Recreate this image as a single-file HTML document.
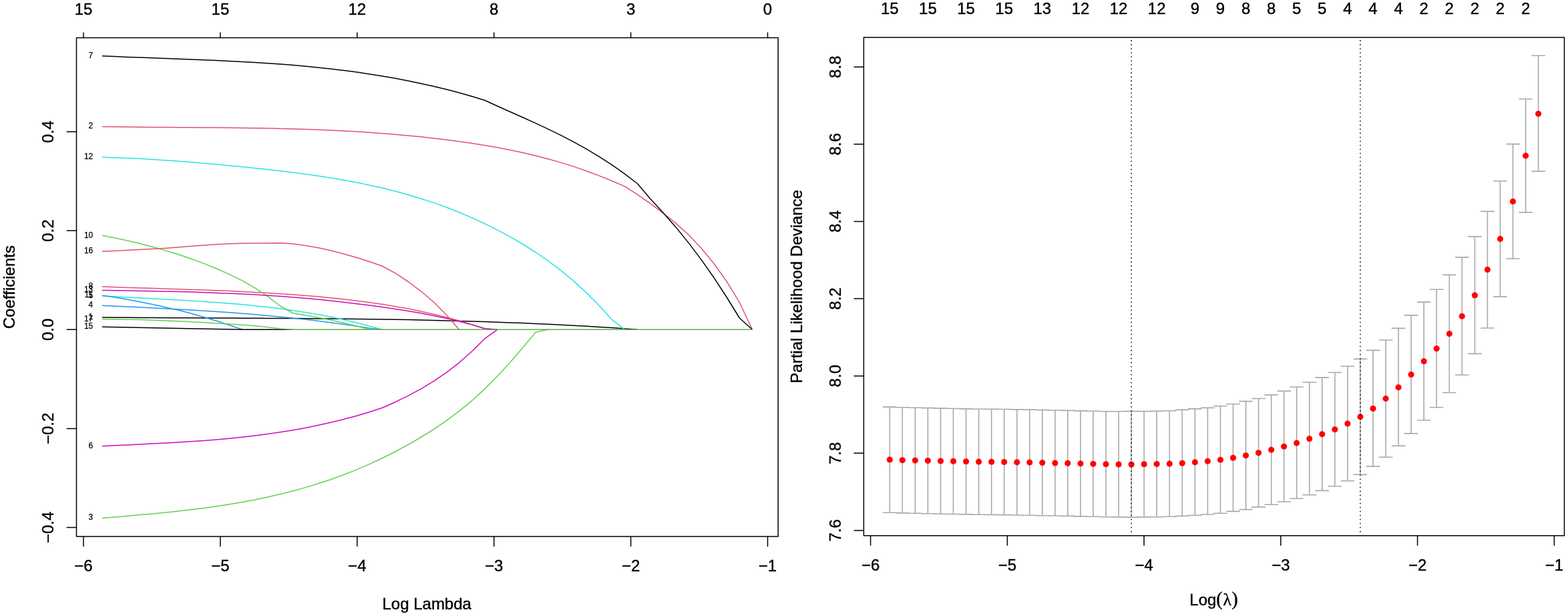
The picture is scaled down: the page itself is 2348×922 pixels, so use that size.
<!DOCTYPE html>
<html lang="en">
<head>
<meta charset="utf-8">
<title>LASSO coefficient paths and cross-validation</title>
<style>
html,body{margin:0;padding:0;background:#fff;}
body{width:2348px;height:922px;overflow:hidden;}
svg{display:block;}
</style>
</head>
<body>
<svg width="2348" height="922" viewBox="0 0 2348 922" font-family="'Liberation Sans', Arial, Helvetica, sans-serif" font-size="24.0" fill="#000">
<style>text{stroke:#000;stroke-width:0.4px;stroke-linejoin:round}.s text{stroke-width:0.25px}</style>
<rect width="2348" height="922" fill="#fff"/>
<g id="left">
<g id="paths">
<polyline points="153.0,475.0 172.1,475.2 191.2,475.3 210.3,475.4 229.4,475.6 248.4,475.7 267.5,475.8 286.6,475.8 305.7,475.9 324.8,476.0 343.9,476.1 363.0,476.2 382.1,476.3 401.1,476.4 420.2,476.5 439.3,476.6 458.4,476.7 477.5,476.9 496.6,477.1 515.7,477.3 534.8,477.5 553.8,477.7 572.9,478.0 592.0,478.3 611.1,478.6 630.2,479.0 649.3,479.4 668.4,479.9 687.5,480.4 706.6,480.9 725.6,481.5 744.7,482.2 763.8,482.9 782.9,483.6 802.0,484.4 821.1,485.3 840.2,486.2 859.3,487.2 878.3,488.3 897.4,489.4 916.5,490.6 935.6,491.9 954.7,493.3" fill="none" stroke="#000000" stroke-width="1.5" stroke-linejoin="round" stroke-linecap="butt"/>
<polyline points="153.0,189.4 172.1,189.7 191.2,190.0 210.3,190.2 229.4,190.4 248.4,190.5 267.5,190.7 286.6,190.8 305.7,190.9 324.8,191.1 343.9,191.3 363.0,191.5 382.1,191.8 401.1,192.1 420.2,192.5 439.3,193.0 458.4,193.6 477.5,194.3 496.6,195.1 515.7,196.0 534.8,197.1 553.8,198.3 572.9,199.7 592.0,201.2 611.1,202.9 630.2,204.8 649.3,206.9 668.4,209.2 687.5,211.7 706.6,214.5 725.6,217.5 744.7,220.8 763.8,224.5 782.9,228.6 802.0,233.0 821.1,238.0 840.2,243.4 859.3,249.4 878.3,256.0 897.4,263.1 916.5,270.8 935.6,279.1 937.1,279.8 954.7,291.4 973.8,304.6 992.9,318.8 1012.0,334.1 1031.0,351.3 1050.1,371.6 1069.2,394.8 1088.3,421.4 1107.4,452.8 1126.5,493.3" fill="none" stroke="#DF536B" stroke-width="1.5" stroke-linejoin="round" stroke-linecap="butt"/>
<polyline points="153.0,775.5 172.1,773.9 191.2,772.3 210.3,770.6 229.4,768.9 248.4,767.0 267.5,765.0 286.6,762.8 305.7,760.4 324.8,757.7 343.9,754.8 363.0,751.5 382.1,747.9 401.1,743.9 420.2,739.5 439.3,734.7 458.4,729.4 477.5,723.5 496.6,717.2 515.7,710.2 534.8,702.6 553.8,694.4 572.9,685.5 592.0,676.0 611.1,665.6 630.2,654.5 649.3,642.6 668.4,629.6 687.5,615.4 706.6,599.8 725.6,582.4 744.7,563.3 763.8,542.4 782.9,520.3 802.0,497.2 821.1,493.3" fill="none" stroke="#61D04F" stroke-width="1.5" stroke-linejoin="round" stroke-linecap="butt"/>
<polyline points="153.0,457.3 172.1,458.2 191.2,459.1 210.3,460.0 229.4,461.0 248.4,462.0 267.5,463.0 286.6,464.1 305.7,465.3 324.8,466.5 343.9,467.8 363.0,469.3 382.1,470.8 401.1,472.5 420.2,474.2 439.3,476.2 458.4,478.2 477.5,480.5 496.6,482.9 515.7,485.5 534.8,488.2 553.8,491.2 572.9,493.3" fill="none" stroke="#2297E6" stroke-width="1.5" stroke-linejoin="round" stroke-linecap="butt"/>
<polyline points="153.0,443.0 172.1,444.1 191.2,445.1 210.3,446.1 229.4,447.1 248.4,448.1 267.5,449.1 286.6,450.2 305.7,451.4 324.8,452.7 343.9,454.2 363.0,455.8 382.1,457.7 401.1,459.7 420.2,462.1 439.3,464.7 458.4,467.7 477.5,471.0 496.6,474.6 515.7,478.7 534.8,483.2 553.8,488.2 572.9,493.3" fill="none" stroke="#28E2E5" stroke-width="1.5" stroke-linejoin="round" stroke-linecap="butt"/>
<polyline points="153.0,667.7 172.1,666.8 191.2,665.9 210.3,665.0 229.4,664.1 248.4,663.1 267.5,662.0 286.6,660.8 305.7,659.5 324.8,657.9 343.9,656.2 363.0,654.3 382.1,652.1 401.1,649.6 420.2,646.8 439.3,643.7 458.4,640.2 477.5,636.3 496.6,632.0 515.7,627.3 534.8,622.2 553.8,616.5 572.9,610.3 592.0,601.7 611.1,592.4 630.2,582.1 649.3,570.6 668.4,557.6 687.5,542.8 706.6,526.0 725.6,507.2 744.7,493.3" fill="none" stroke="#CD0BBC" stroke-width="1.5" stroke-linejoin="round" stroke-linecap="butt"/>
<polyline points="153.0,83.8 172.1,84.6 191.2,85.4 210.3,86.1 229.4,86.8 248.4,87.5 267.5,88.2 286.6,88.9 305.7,89.7 324.8,90.5 343.9,91.4 363.0,92.4 382.1,93.5 401.1,94.7 420.2,96.1 439.3,97.6 458.4,99.3 477.5,101.2 496.6,103.3 515.7,105.6 534.8,108.1 553.8,110.9 572.9,114.0 592.0,117.3 611.1,121.0 630.2,124.9 649.3,129.2 668.4,133.8 687.5,138.8 706.6,144.2 725.6,150.0 744.7,158.7 763.8,167.2 782.9,175.8 802.0,184.4 821.1,193.4 840.2,202.7 859.3,212.6 878.3,223.2 897.4,234.6 916.5,246.9 935.6,260.3 954.7,275.0 973.8,297.6 992.9,318.3 1012.0,339.9 1031.0,363.4 1050.1,388.6 1069.2,415.8 1088.3,445.0 1107.4,476.0 1126.5,493.3" fill="none" stroke="#000000" stroke-width="1.5" stroke-linejoin="round" stroke-linecap="butt"/>
<polyline points="153.0,429.1 172.1,429.8 191.2,430.4 210.3,431.0 229.4,431.6 248.4,432.2 267.5,432.8 286.6,433.4 305.7,434.1 324.8,434.8 343.9,435.6 363.0,436.4 382.1,437.4 401.1,438.5 420.2,439.7 439.3,441.0 458.4,442.5 477.5,444.1 496.6,445.9 515.7,448.0 534.8,450.2 553.8,452.7 572.9,455.5 592.0,458.7 611.1,462.1 630.2,466.0 649.3,470.2 668.4,474.9 687.5,480.0 706.6,485.6 725.6,491.7 744.7,493.3" fill="none" stroke="#DF536B" stroke-width="1.5" stroke-linejoin="round" stroke-linecap="butt"/>
<polyline points="153.0,352.6 172.1,356.2 191.2,360.3 210.3,364.8 229.4,369.8 248.4,375.1 267.5,381.0 286.6,387.5 305.7,394.6 324.8,402.3 343.9,410.9 363.0,420.2 382.1,431.1 401.1,443.8 420.2,458.5 439.3,469.0 458.4,472.1 477.5,475.5 496.6,479.3 515.7,483.5 534.8,488.2 553.8,493.3" fill="none" stroke="#61D04F" stroke-width="1.5" stroke-linejoin="round" stroke-linecap="butt"/>
<polyline points="153.0,442.3 172.1,445.1 191.2,448.3 210.3,451.9 229.4,455.8 248.4,459.9 267.5,464.3 286.6,469.3 305.7,474.7 324.8,480.5 343.9,486.7 363.0,493.3" fill="none" stroke="#2297E6" stroke-width="1.5" stroke-linejoin="round" stroke-linecap="butt"/>
<polyline points="153.0,235.2 172.1,235.9 191.2,236.7 210.3,237.6 229.4,238.7 248.4,239.9 267.5,241.3 286.6,242.8 305.7,244.4 324.8,246.1 343.9,247.9 363.0,249.8 382.1,251.7 401.1,253.8 420.2,256.0 439.3,258.3 458.4,260.8 477.5,263.5 496.6,266.4 515.7,269.7 534.8,273.2 553.8,277.2 572.9,281.5 592.0,286.2 611.1,291.5 630.2,297.2 649.3,303.4 668.4,310.3 687.5,317.8 706.6,325.9 725.6,334.7 744.7,344.2 763.8,354.4 782.9,365.5 802.0,377.5 821.1,390.7 840.2,405.1 859.3,420.9 878.3,438.4 897.4,457.5 916.5,478.4 935.6,493.3" fill="none" stroke="#28E2E5" stroke-width="1.5" stroke-linejoin="round" stroke-linecap="butt"/>
<polyline points="153.0,434.5 172.1,434.8 191.2,435.1 210.3,435.4 229.4,435.8 248.4,436.2 267.5,436.6 286.6,437.1 305.7,437.8 324.8,438.4 343.9,439.2 363.0,440.1 382.1,441.1 401.1,442.3 420.2,443.6 439.3,445.0 458.4,446.6 477.5,448.3 496.6,450.3 515.7,452.4 534.8,454.7 553.8,457.1 572.9,459.8 592.0,462.5 611.1,465.5 630.2,468.8 649.3,472.5 668.4,476.5 687.5,481.0 706.6,486.1 725.6,491.7 744.7,493.3" fill="none" stroke="#CD0BBC" stroke-width="1.5" stroke-linejoin="round" stroke-linecap="butt"/>
<polyline points="362.0,493.3 437.3,493.3" fill="none" stroke="#000000" stroke-width="1.6" stroke-linejoin="round" stroke-linecap="butt"/>
<polyline points="153.0,489.3 363.0,493.3" fill="none" stroke="#000000" stroke-width="1.5" stroke-linejoin="round" stroke-linecap="butt"/>
<polyline points="153.0,376.3 172.1,375.4 191.2,374.5 210.3,373.6 229.4,372.6 248.4,371.5 267.5,370.1 286.6,368.6 305.7,367.1 324.8,365.7 343.9,364.7 363.0,364.2 382.1,364.0 401.1,363.9 420.2,363.8 439.3,364.9 458.4,367.7 477.5,371.1 496.6,375.3 515.7,380.3 534.8,385.8 553.8,391.8 572.9,398.5 592.0,408.9 611.1,421.5 630.2,435.8 649.3,452.0 668.4,471.2 687.5,493.3" fill="none" stroke="#DF536B" stroke-width="1.5" stroke-linejoin="round" stroke-linecap="butt"/>
<polyline points="153.0,477.8 172.1,477.9 191.2,478.2 210.3,478.6 229.4,479.2 248.4,479.9 267.5,480.8 286.6,481.7 305.7,482.8 324.8,483.9 343.9,485.0 363.0,486.2 382.1,487.7 401.1,489.8 420.2,492.0 439.3,493.3" fill="none" stroke="#61D04F" stroke-width="1.5" stroke-linejoin="round" stroke-linecap="butt"/>
<polyline points="436.8,493.3 1126.5,493.3" fill="none" stroke="#5AB040" stroke-width="1.6" stroke-linejoin="round" stroke-linecap="butt"/>
</g>
<g class="s" font-size="12.0" text-anchor="end">
<text x="139.3" y="477.9">1</text>
<text x="139.3" y="192.3">2</text>
<text x="139.3" y="778.4">3</text>
<text x="139.3" y="460.2">4</text>
<text x="139.3" y="445.9">5</text>
<text x="139.3" y="670.6">6</text>
<text x="139.3" y="86.7">7</text>
<text x="139.3" y="432.0">8</text>
<text x="139.3" y="355.5">10</text>
<text x="139.3" y="445.2">11</text>
<text x="139.3" y="238.1">12</text>
<text x="139.3" y="437.4">13</text>
<text x="139.3" y="492.2">15</text>
<text x="139.3" y="379.2">16</text>
<text x="139.3" y="480.7">17</text>
</g>
<rect x="114.5" y="56.5" width="1050.7" height="746.6" fill="none" stroke="#000" stroke-width="1.5" stroke-linejoin="round"/>
<g stroke="#000" stroke-width="1.5" stroke-linecap="round">
<line x1="125.0" y1="803.1" x2="125.0" y2="817.5"/>
<line x1="125.0" y1="56.5" x2="125.0" y2="49.0"/>
<line x1="329.9" y1="803.1" x2="329.9" y2="817.5"/>
<line x1="329.9" y1="56.5" x2="329.9" y2="49.0"/>
<line x1="534.8" y1="803.1" x2="534.8" y2="817.5"/>
<line x1="534.8" y1="56.5" x2="534.8" y2="49.0"/>
<line x1="739.7" y1="803.1" x2="739.7" y2="817.5"/>
<line x1="739.7" y1="56.5" x2="739.7" y2="49.0"/>
<line x1="944.6" y1="803.1" x2="944.6" y2="817.5"/>
<line x1="944.6" y1="56.5" x2="944.6" y2="49.0"/>
<line x1="1149.5" y1="803.1" x2="1149.5" y2="817.5"/>
<line x1="1149.5" y1="56.5" x2="1149.5" y2="49.0"/>
<line x1="114.5" y1="197.2" x2="100.1" y2="197.2"/>
<line x1="114.5" y1="345.2" x2="100.1" y2="345.2"/>
<line x1="114.5" y1="493.3" x2="100.1" y2="493.3"/>
<line x1="114.5" y1="641.4" x2="100.1" y2="641.4"/>
<line x1="114.5" y1="789.4" x2="100.1" y2="789.4"/>
</g>
<g text-anchor="middle">
<text x="125.0" y="855.1">−6</text>
<text x="329.9" y="855.1">−5</text>
<text x="534.8" y="855.1">−4</text>
<text x="739.7" y="855.1">−3</text>
<text x="944.6" y="855.1">−2</text>
<text x="1149.5" y="855.1">−1</text>
<text x="125.0" y="21.8">15</text>
<text x="329.9" y="21.8">15</text>
<text x="534.8" y="21.8">12</text>
<text x="739.7" y="21.8">8</text>
<text x="944.6" y="21.8">3</text>
<text x="1149.5" y="21.8">0</text>
<text transform="translate(79.7 197.2) rotate(-90)">0.4</text>
<text transform="translate(79.7 345.2) rotate(-90)">0.2</text>
<text transform="translate(79.7 493.3) rotate(-90)">0.0</text>
<text transform="translate(79.7 641.4) rotate(-90)">−0.2</text>
<text transform="translate(79.7 789.4) rotate(-90)">−0.4</text>
<text x="639.2" y="912.3">Log Lambda</text>
<text transform="translate(22.1 429.8) rotate(-90)">Coefficients</text>
</g>
</g>
<g id="right">
<g stroke="#A9A9A9" stroke-width="1.6" stroke-linecap="round" fill="none">
<path d="M1332.3 609.1V767.2M1322.6 609.1H1342.0M1322.6 767.2H1342.0"/>
<path d="M1351.3 609.8V767.9M1341.6 609.8H1361.0M1341.6 767.9H1361.0"/>
<path d="M1370.4 610.2V768.3M1360.7 610.2H1380.1M1360.7 768.3H1380.1"/>
<path d="M1389.4 610.6V768.7M1379.7 610.6H1399.1M1379.7 768.7H1399.1"/>
<path d="M1408.5 611.1V769.2M1398.8 611.1H1418.2M1398.8 769.2H1418.2"/>
<path d="M1427.5 611.5V769.5M1417.8 611.5H1437.2M1417.8 769.5H1437.2"/>
<path d="M1446.6 611.9V769.9M1436.9 611.9H1456.3M1436.9 769.9H1456.3"/>
<path d="M1465.6 612.2V770.2M1455.9 612.2H1475.3M1455.9 770.2H1475.3"/>
<path d="M1484.7 612.4V770.4M1475.0 612.4H1494.4M1475.0 770.4H1494.4"/>
<path d="M1503.7 612.5V770.6M1494.0 612.5H1513.4M1494.0 770.6H1513.4"/>
<path d="M1522.8 612.9V771.0M1513.0 612.9H1532.5M1513.0 771.0H1532.5"/>
<path d="M1541.8 613.1V771.2M1532.1 613.1H1551.5M1532.1 771.2H1551.5"/>
<path d="M1560.8 613.6V771.7M1551.1 613.6H1570.5M1551.1 771.7H1570.5"/>
<path d="M1579.9 614.0V772.0M1570.2 614.0H1589.6M1570.2 772.0H1589.6"/>
<path d="M1598.9 614.4V772.4M1589.2 614.4H1608.6M1589.2 772.4H1608.6"/>
<path d="M1618.0 614.9V772.9M1608.3 614.9H1627.7M1608.3 772.9H1627.7"/>
<path d="M1637.0 615.3V773.3M1627.3 615.3H1646.7M1627.3 773.3H1646.7"/>
<path d="M1656.1 615.8V773.7M1646.4 615.8H1665.8M1646.4 773.7H1665.8"/>
<path d="M1675.1 615.8V773.9M1665.4 615.8H1684.8M1665.4 773.9H1684.8"/>
<path d="M1694.2 615.6V774.1M1684.5 615.6H1703.9M1684.5 774.1H1703.9"/>
<path d="M1713.2 615.6V773.9M1703.5 615.6H1722.9M1703.5 773.9H1722.9"/>
<path d="M1732.2 615.4V773.7M1722.5 615.4H1741.9M1722.5 773.7H1741.9"/>
<path d="M1751.3 614.7V773.3M1741.6 614.7H1761.0M1741.6 773.3H1761.0"/>
<path d="M1770.3 613.4V772.4M1760.6 613.4H1780.0M1760.6 772.4H1780.0"/>
<path d="M1789.4 611.9V771.3M1779.7 611.9H1799.1M1779.7 771.3H1799.1"/>
<path d="M1808.4 610.4V770.0M1798.7 610.4H1818.1M1798.7 770.0H1818.1"/>
<path d="M1827.5 607.8V768.3M1817.8 607.8H1837.2M1817.8 768.3H1837.2"/>
<path d="M1846.5 604.7V765.4M1836.8 604.7H1856.2M1836.8 765.4H1856.2"/>
<path d="M1865.6 600.6V762.6M1855.9 600.6H1875.3M1855.9 762.6H1875.3"/>
<path d="M1884.6 596.5V758.9M1874.9 596.5H1894.3M1874.9 758.9H1894.3"/>
<path d="M1903.7 591.1V755.2M1894.0 591.1H1913.4M1894.0 755.2H1913.4"/>
<path d="M1922.7 585.4V751.0M1913.0 585.4H1932.4M1913.0 751.0H1932.4"/>
<path d="M1941.7 579.2V746.2M1932.0 579.2H1951.4M1932.0 746.2H1951.4"/>
<path d="M1960.8 572.3V740.7M1951.1 572.3H1970.5M1951.1 740.7H1970.5"/>
<path d="M1979.8 565.1V734.4M1970.1 565.1H1989.5M1970.1 734.4H1989.5"/>
<path d="M1998.9 557.5V727.8M1989.2 557.5H2008.6M1989.2 727.8H2008.6"/>
<path d="M2017.9 548.2V719.8M2008.2 548.2H2027.6M2008.2 719.8H2027.6"/>
<path d="M2037.0 537.4V710.4M2027.3 537.4H2046.7M2027.3 710.4H2046.7"/>
<path d="M2056.0 524.4V698.1M2046.3 524.4H2065.7M2046.3 698.1H2065.7"/>
<path d="M2075.1 509.0V684.2M2065.4 509.0H2084.8M2065.4 684.2H2084.8"/>
<path d="M2094.1 491.4V667.4M2084.4 491.4H2103.8M2084.4 667.4H2103.8"/>
<path d="M2113.1 471.9V648.9M2103.4 471.9H2122.8M2103.4 648.9H2122.8"/>
<path d="M2132.2 452.1V629.0M2122.5 452.1H2141.9M2122.5 629.0H2141.9"/>
<path d="M2151.2 433.3V609.8M2141.5 433.3H2160.9M2141.5 609.8H2160.9"/>
<path d="M2170.3 411.4V587.7M2160.6 411.4H2180.0M2160.6 587.7H2180.0"/>
<path d="M2189.3 385.1V561.2M2179.6 385.1H2199.0M2179.6 561.2H2199.0"/>
<path d="M2208.4 354.1V529.4M2198.7 354.1H2218.1M2198.7 529.4H2218.1"/>
<path d="M2227.4 316.4V491.0M2217.7 316.4H2237.1M2217.7 491.0H2237.1"/>
<path d="M2246.5 271.0V444.1M2236.8 271.0H2256.2M2236.8 444.1H2256.2"/>
<path d="M2265.5 215.6V387.3M2255.8 215.6H2275.2M2255.8 387.3H2275.2"/>
<path d="M2284.6 148.3V317.9M2274.9 148.3H2294.2M2274.9 317.9H2294.2"/>
<path d="M2303.6 83.2V256.4M2293.9 83.2H2313.3M2293.9 256.4H2313.3"/>
</g>
<g fill="#FF0000">
<circle cx="1332.3" cy="688.0" r="4.55"/>
<circle cx="1351.3" cy="688.7" r="4.55"/>
<circle cx="1370.4" cy="689.1" r="4.55"/>
<circle cx="1389.4" cy="689.5" r="4.55"/>
<circle cx="1408.5" cy="690.0" r="4.55"/>
<circle cx="1427.5" cy="690.4" r="4.55"/>
<circle cx="1446.6" cy="690.8" r="4.55"/>
<circle cx="1465.6" cy="691.1" r="4.55"/>
<circle cx="1484.7" cy="691.3" r="4.55"/>
<circle cx="1503.7" cy="691.5" r="4.55"/>
<circle cx="1522.8" cy="691.9" r="4.55"/>
<circle cx="1541.8" cy="692.1" r="4.55"/>
<circle cx="1560.8" cy="692.6" r="4.55"/>
<circle cx="1579.9" cy="693.0" r="4.55"/>
<circle cx="1598.9" cy="693.4" r="4.55"/>
<circle cx="1618.0" cy="693.9" r="4.55"/>
<circle cx="1637.0" cy="694.3" r="4.55"/>
<circle cx="1656.1" cy="694.7" r="4.55"/>
<circle cx="1675.1" cy="695.0" r="4.55"/>
<circle cx="1694.2" cy="695.0" r="4.55"/>
<circle cx="1713.2" cy="694.7" r="4.55"/>
<circle cx="1732.2" cy="694.5" r="4.55"/>
<circle cx="1751.3" cy="694.1" r="4.55"/>
<circle cx="1770.3" cy="693.2" r="4.55"/>
<circle cx="1789.4" cy="691.9" r="4.55"/>
<circle cx="1808.4" cy="690.4" r="4.55"/>
<circle cx="1827.5" cy="688.2" r="4.55"/>
<circle cx="1846.5" cy="685.2" r="4.55"/>
<circle cx="1865.6" cy="681.7" r="4.55"/>
<circle cx="1884.6" cy="677.8" r="4.55"/>
<circle cx="1903.7" cy="673.3" r="4.55"/>
<circle cx="1922.7" cy="668.3" r="4.55"/>
<circle cx="1941.7" cy="663.1" r="4.55"/>
<circle cx="1960.8" cy="656.8" r="4.55"/>
<circle cx="1979.8" cy="649.9" r="4.55"/>
<circle cx="1998.9" cy="642.7" r="4.55"/>
<circle cx="2017.9" cy="634.1" r="4.55"/>
<circle cx="2037.0" cy="623.9" r="4.55"/>
<circle cx="2056.0" cy="611.5" r="4.55"/>
<circle cx="2075.1" cy="596.6" r="4.55"/>
<circle cx="2094.1" cy="579.7" r="4.55"/>
<circle cx="2113.1" cy="560.6" r="4.55"/>
<circle cx="2132.2" cy="540.8" r="4.55"/>
<circle cx="2151.2" cy="521.8" r="4.55"/>
<circle cx="2170.3" cy="499.6" r="4.55"/>
<circle cx="2189.3" cy="473.4" r="4.55"/>
<circle cx="2208.4" cy="442.0" r="4.55"/>
<circle cx="2227.4" cy="403.6" r="4.55"/>
<circle cx="2246.5" cy="357.6" r="4.55"/>
<circle cx="2265.5" cy="301.6" r="4.55"/>
<circle cx="2284.6" cy="233.1" r="4.55"/>
<circle cx="2303.6" cy="170.2" r="4.55"/>
</g>
<line x1="1694.15" y1="60.1" x2="1694.15" y2="797" stroke="#000" stroke-width="1.5" stroke-dasharray="1.6 4.422" stroke-linecap="butt"/>
<line x1="2036.97" y1="60.1" x2="2036.97" y2="797" stroke="#000" stroke-width="1.5" stroke-dasharray="1.6 4.422" stroke-linecap="butt"/>
<rect x="1293.4" y="56.0" width="1049.1" height="745.8" fill="none" stroke="#000" stroke-width="1.5" stroke-linejoin="round"/>
<g stroke="#000" stroke-width="1.5" stroke-linecap="round">
<line x1="1303.6" y1="801.8" x2="1303.6" y2="816.2"/>
<line x1="1508.4" y1="801.8" x2="1508.4" y2="816.2"/>
<line x1="1713.1" y1="801.8" x2="1713.1" y2="816.2"/>
<line x1="1917.9" y1="801.8" x2="1917.9" y2="816.2"/>
<line x1="2122.6" y1="801.8" x2="2122.6" y2="816.2"/>
<line x1="2327.4" y1="801.8" x2="2327.4" y2="816.2"/>
<line x1="1293.4" y1="793.9" x2="1279.0" y2="793.9"/>
<line x1="1293.4" y1="678.3" x2="1279.0" y2="678.3"/>
<line x1="1293.4" y1="562.7" x2="1279.0" y2="562.7"/>
<line x1="1293.4" y1="447.0" x2="1279.0" y2="447.0"/>
<line x1="1293.4" y1="331.4" x2="1279.0" y2="331.4"/>
<line x1="1293.4" y1="215.8" x2="1279.0" y2="215.8"/>
<line x1="1293.4" y1="100.2" x2="1279.0" y2="100.2"/>
</g>
<g text-anchor="middle">
<text x="1303.6" y="853.6">−6</text>
<text x="1508.4" y="853.6">−5</text>
<text x="1713.1" y="853.6">−4</text>
<text x="1917.9" y="853.6">−3</text>
<text x="2122.6" y="853.6">−2</text>
<text x="2327.4" y="853.6">−1</text>
<text x="1332.3" y="21.2">15</text>
<text x="1389.4" y="21.2">15</text>
<text x="1446.6" y="21.2">15</text>
<text x="1503.7" y="21.2">15</text>
<text x="1560.8" y="21.2">13</text>
<text x="1618.0" y="21.2">12</text>
<text x="1675.1" y="21.2">12</text>
<text x="1732.2" y="21.2">12</text>
<text x="1789.4" y="21.2">9</text>
<text x="1827.5" y="21.2">9</text>
<text x="1865.6" y="21.2">8</text>
<text x="1903.7" y="21.2">8</text>
<text x="1941.7" y="21.2">5</text>
<text x="1979.8" y="21.2">5</text>
<text x="2017.9" y="21.2">4</text>
<text x="2056.0" y="21.2">4</text>
<text x="2094.1" y="21.2">4</text>
<text x="2132.2" y="21.2">2</text>
<text x="2170.3" y="21.2">2</text>
<text x="2208.4" y="21.2">2</text>
<text x="2246.5" y="21.2">2</text>
<text x="2284.6" y="21.2">2</text>
<text transform="translate(1258.5 793.9) rotate(-90)">7.6</text>
<text transform="translate(1258.5 678.3) rotate(-90)">7.8</text>
<text transform="translate(1258.5 562.7) rotate(-90)">8.0</text>
<text transform="translate(1258.5 447.0) rotate(-90)">8.2</text>
<text transform="translate(1258.5 331.4) rotate(-90)">8.4</text>
<text transform="translate(1258.5 215.8) rotate(-90)">8.6</text>
<text transform="translate(1258.5 100.2) rotate(-90)">8.8</text>
<text x="1817.5" y="905.5">Log<tspan font-family="'Liberation Serif', 'DejaVu Serif', serif" font-size="28.5" dx="0">(<tspan font-size="25.5" dx="0.7">λ</tspan><tspan dx="0.3">)</tspan></tspan></text>
<text transform="translate(1200.6 428.9) rotate(-90)">Partial Likelihood Deviance</text>
</g>
</g>
</svg>
</body>
</html>
